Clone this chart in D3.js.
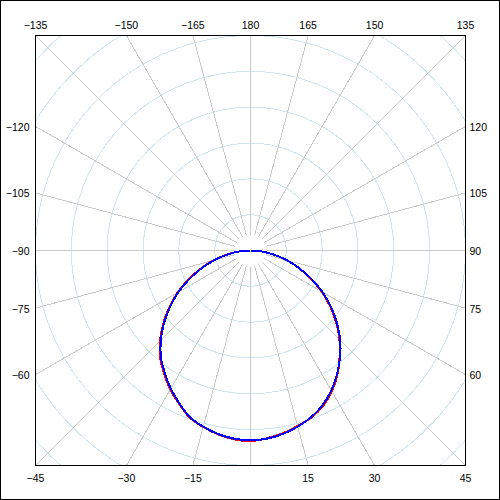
<!DOCTYPE html>
<html>
<head>
<meta charset="utf-8">
<script src="https://cdn.jsdelivr.net/npm/d3@7"></script>
<style>
  body { margin: 0; background: #fff; }
  svg text { font-family: "Liberation Sans", Arial, sans-serif; font-size: 10.5px; fill: #000; }
</style>
</head>
<body>
<div id="chart"></div>
<script>
// polar intensity plot, 0 deg points down, 180 up
const angles = [-90,-85,-80,-75,-70,-65,-60,-55,-50,-45,-40,-35,-30,-25,-20,-15,-10,-5,0,
                5,10,15,20,25,30,35,40,45,50,55,60,65,70,75,80,85,90];
const blueVals = [1,32,67,105,145,188,232,274,315,354,389,417,445,470,495,509,520,527,530,
                  527,520,509,495,476,451,421,389,354,315,274,232,188,145,105,67,32,1];
const redVals = [1,33,69,108,148,191,235,277,318,357,392,420,448,472,496,510,521,529,532,
                 526,518,507,496,479,454,423,387,351,312,271,229,186,144,105,67,32,1];

const ringValues = [100,200,300,400,500,600,700,800];
const spokeAngles = [-165,-150,-135,-120,-105,-90,-75,-60,-45,-30,-15,0,15,30,45,60,75,90,105,120,135,150,165,180];
const labelAngles = [-165,-150,-135,-120,-105,-90,-75,-60,-45,-30,-15,15,30,45,60,75,90,105,120,135,150,165,180];

const W = 500, H = 500;
const cx = 250.5, cy = 250.5, half = 215;

const svg = d3.select("#chart").append("svg")
  .attr("width", W).attr("height", H);

svg.append("rect")
  .attr("x", 0.5).attr("y", 0.5)
  .attr("width", W - 1).attr("height", H - 1)
  .attr("fill", "#fff").attr("stroke", "#000");

svg.append("clipPath").attr("id", "plotclip")
  .append("rect")
    .attr("x", cx - half).attr("y", cy - half)
    .attr("width", 2 * half).attr("height", 2 * half);

var r = d3.scaleLinear().domain([0, 600]).range([0, half]);

var g = svg.append("g")
  .attr("clip-path", "url(#plotclip)")
  .append("g")
    .attr("transform", "translate(" + cx + "," + cy + ")");

// rings
g.selectAll("circle.ring")
  .data(ringValues)
  .enter()
  .append("circle")
    .attr("class", "ring")
    .attr("r", function(d) { return r(d); })
    .attr("fill", "none")
    .attr("stroke", "#cfe6ee")
    .attr("shape-rendering", "crispEdges");

// spokes
var rad = function(a) { return a * Math.PI / 180; };
g.selectAll("line.spoke")
  .data(spokeAngles)
  .enter()
  .append("line")
    .attr("class", "spoke")
    .attr("x1", function(d) { return 16 * Math.sin(rad(d)); })
    .attr("y1", function(d) { return 16 * Math.cos(rad(d)); })
    .attr("x2", function(d) { return 400 * Math.sin(rad(d)); })
    .attr("y2", function(d) { return 400 * Math.cos(rad(d)); })
    .attr("stroke", "#cacaca")
    .attr("shape-rendering", "crispEdges");

// curves
var line = d3.lineRadial()
  .angle(function(d) { return rad(180 - d.a); })
  .radius(function(d) { return r(d.v); })
  .curve(d3.curveCatmullRom);

var series = [
  {color: "#ff0000", vals: redVals},
  {color: "#0000ff", vals: blueVals}
];

series.forEach(function(s) {
  var pts = angles.map(function(a, i) { return {a: a, v: s.vals[i]}; });
  g.append("path")
    .datum(pts)
    .attr("fill", "none")
    .attr("stroke", s.color)
    .attr("stroke-width", 2)
    .attr("shape-rendering", "crispEdges")
    .attr("d", line);
});

// plot border
svg.append("rect")
  .attr("x", cx - half).attr("y", cy - half)
  .attr("width", 2 * half).attr("height", 2 * half)
  .attr("fill", "none").attr("stroke", "#000")
  .attr("shape-rendering", "crispEdges");

// angle labels along the border
labelAngles.forEach(function(a) {
  var sx = Math.sin(rad(a)), sy = Math.cos(rad(a));
  var txt = String(Math.abs(a));
  if (a < 0) txt = "\u2212" + txt;
  var t = svg.append("text").text(txt);
  if (Math.abs(sy) >= Math.abs(sx) - 1e-9) {
    var px = cx + half * sx / Math.abs(sy);
    t.attr("x", px).attr("text-anchor", "middle");
    if (sy < 0) t.attr("y", cy - half - 7);
    else t.attr("y", cy + half + 16.5);
  } else {
    var py = cy + half * sy / Math.abs(sx);
    t.attr("y", py + 4.5);
    if (sx < 0) t.attr("x", cx - half - 6).attr("text-anchor", "end");
    else t.attr("x", cx + half + 4).attr("text-anchor", "start");
  }
});
</script>
</body>
</html>
